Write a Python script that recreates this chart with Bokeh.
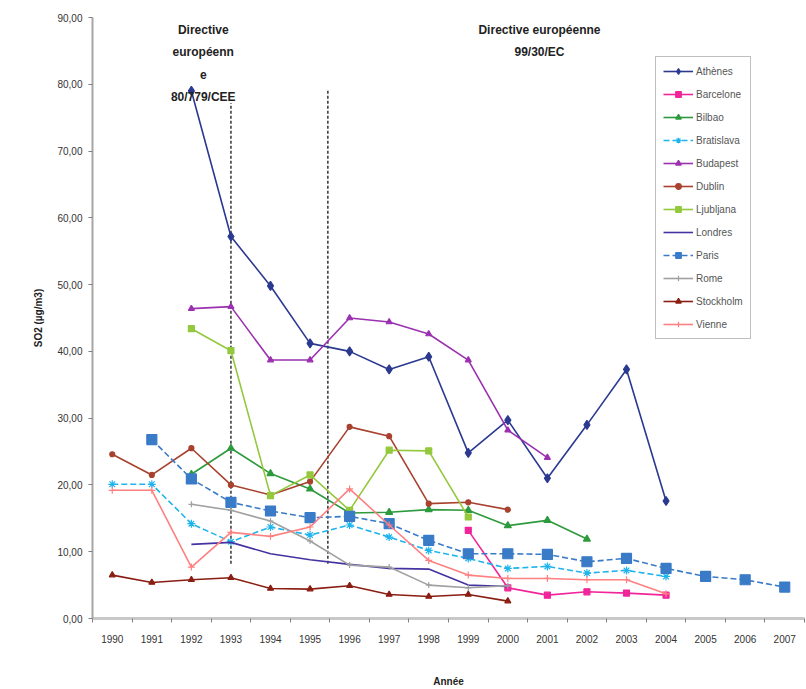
from bokeh.plotting import figure
from bokeh.models import FixedTicker, Label, Legend, LegendItem, ColumnDataSource
from bokeh.embed import file_html
from bokeh.resources import INLINE

nan = float("nan")

years = list(range(1990, 2008))
year_labels = [str(y) for y in years]
y_ticks = [0, 10, 20, 30, 40, 50, 60, 70, 80, 90]
y_tick_labels = ["0,00", "10,00", "20,00", "30,00", "40,00", "50,00", "60,00", "70,00", "80,00", "90,00"]

#            1990 1991 1992 1993 1994 1995 1996 1997 1998 1999 2000 2001 2002 2003 2004 2005 2006 2007
athenes    = [nan, nan, 79.0, 57.2, 49.8, 41.2, 40.0, 37.3, 39.2, 24.8, 29.7, 21.0, 29.0, 37.3, 17.6, nan, nan, nan]
barcelone  = [nan, nan, nan, nan, nan, nan, nan, nan, nan, 13.2, 4.6, 3.5, 4.0, 3.8, 3.5, nan, nan, nan]
bilbao     = [nan, nan, 21.6, 25.5, 21.7, 19.4, 15.8, 15.9, 16.3, 16.2, 13.9, 14.7, 11.9, nan, nan, nan, nan, nan]
bratislava = [20.1, 20.1, 14.2, 11.5, 13.7, 12.5, 14.0, 12.2, 10.2, 9.0, 7.5, 7.8, 6.8, 7.2, 6.3, nan, nan, nan]
budapest   = [nan, nan, 46.4, 46.7, 38.7, 38.7, 45.0, 44.4, 42.6, 38.7, 28.2, 24.1, nan, nan, nan, nan, nan, nan]
dublin     = [24.6, 21.5, 25.5, 20.0, 18.5, 20.5, 28.7, 27.3, 17.2, 17.4, 16.3, nan, nan, nan, nan, nan, nan, nan]
ljubljana  = [nan, nan, 43.4, 40.1, 18.4, 21.5, 16.2, 25.2, 25.1, 15.2, nan, nan, nan, nan, nan, nan, nan, nan]
londres    = [nan, nan, 11.1, 11.4, 9.7, 8.8, 8.1, 7.5, 7.4, 5.0, 4.8, nan, nan, nan, nan, nan, nan, nan]
paris      = [nan, 26.8, 20.9, 17.4, 16.1, 15.1, 15.3, 14.2, 11.7, 9.7, 9.7, 9.6, 8.5, 9.0, 7.5, 6.3, 5.8, 4.7]
rome       = [nan, nan, 17.1, 16.2, 14.6, 11.6, 8.0, 7.7, 5.0, 4.6, 4.9, nan, nan, nan, nan, nan, nan, nan]
stockholm  = [6.5, 5.4, 5.8, 6.1, 4.5, 4.4, 4.9, 3.6, 3.3, 3.6, 2.6, nan, nan, nan, nan, nan, nan, nan]
vienne     = [19.2, 19.2, 7.7, 12.9, 12.3, 13.7, 19.4, 14.0, 8.7, 6.5, 6.0, 6.0, 5.8, 5.8, 3.7, nan, nan, nan]

# directive marker lines (year position, top and bottom values)
directive_x = [1993, 1995.45]
directive_top = [77.2, 79.2]
directive_bottom = [8.2, 8.2]

series = [
    ("Athènes", athenes, "#2b3990", "diamond", 9, None),
    ("Barcelone", barcelone, "#f0259a", "square", 6, None),
    ("Bilbao", bilbao, "#2e9a3e", "triangle", 7, None),
    ("Bratislava", bratislava, "#1fb4ee", "asterisk", 8, "6 3"),
    ("Budapest", budapest, "#9b30b0", "triangle", 6, None),
    ("Dublin", dublin, "#a8412e", "circle", 5, None),
    ("Ljubljana", ljubljana, "#94c83d", "square", 6, None),
    ("Londres", londres, "#4433a0", None, 0, None),
    ("Paris", paris, "#3a7bc8", "square", 10, "6 3"),
    ("Rome", rome, "#a0a0a0", "cross", 6, None),
    ("Stockholm", stockholm, "#8b1e12", "triangle", 6, None),
    ("Vienne", vienne, "#ff8080", "cross", 7, None),
]

FONT = "Liberation Sans"

p = figure(width=806, height=689, output_backend="svg", toolbar_location=None,
           x_range=(1989.5, 2007.5), y_range=(0, 90),
           min_border_left=92, min_border_right=2, min_border_top=17, min_border_bottom=67)
p.xgrid.visible = False
p.ygrid.visible = False
p.outline_line_color = None
p.background_fill_color = "white"
p.border_fill_color = "white"

# axes
p.xaxis.ticker = FixedTicker(ticks=years, minor_ticks=[y - 0.5 for y in years] + [2007.5])
p.xaxis.major_label_overrides = {y: s for y, s in zip(years, year_labels)}
p.xaxis.major_tick_out = 0
p.xaxis.major_tick_in = 0
p.xaxis.minor_tick_out = 4
p.xaxis.minor_tick_in = 0
p.xaxis.minor_tick_line_color = "#808080"
p.xaxis.axis_line_color = "#c8c8c8"
p.xaxis.axis_line_width = 3
p.xaxis.major_label_standoff = 12
p.xaxis.axis_label = "Année"
p.xaxis.axis_label_standoff = 30
p.xaxis.axis_label_text_font_size = "10px"
p.xaxis.axis_label_text_font_style = "bold"

p.yaxis.ticker = FixedTicker(ticks=y_ticks)
p.yaxis.major_label_overrides = {t: s for t, s in zip(y_ticks, y_tick_labels)}
p.yaxis.major_tick_out = 4
p.yaxis.major_tick_in = 0
p.yaxis.minor_tick_out = 0
p.yaxis.minor_tick_in = 0
p.yaxis.major_tick_line_color = "#808080"
p.yaxis.axis_line_color = "#a6a6a6"
p.yaxis.axis_line_width = 2
p.yaxis.major_label_standoff = 6
p.yaxis.axis_label = "SO2 (µg/m3)"
p.yaxis.axis_label_standoff = 10
p.yaxis.axis_label_text_font_size = "10px"
p.yaxis.axis_label_text_font_style = "bold"

for ax in (p.xaxis, p.yaxis):
    ax.major_label_text_font = FONT
    ax.major_label_text_font_size = "10px"
    ax.major_label_text_color = "#333333"
    ax.axis_label_text_font = FONT
    ax.axis_label_text_color = "#222222"

# directive lines
p.segment(x0=directive_x, y0=directive_bottom, x1=directive_x, y1=directive_top,
          line_color="#333333", line_width=1.5, line_dash="3 2")

items = []
for name, vals, color, marker, size, dash in series:
    src = ColumnDataSource(dict(x=years, y=vals))
    rs = []
    r = p.line("x", "y", source=src, line_color=color, line_width=1.6,
               line_dash=dash if dash else "solid")
    rs.append(r)
    if marker:
        m = p.scatter("x", "y", source=src, marker=marker, size=size,
                      fill_color=color, line_color=color, line_width=1.2)
        rs.append(m)
    items.append(LegendItem(label=name, renderers=rs))

legend = Legend(items=items, location=(563, 279), orientation="vertical",
                label_text_font=FONT, label_text_font_size="10px", label_text_color="#555555",
                glyph_width=30, glyph_height=14, label_height=14, label_standoff=3,
                spacing=9, padding=7, margin=0,
                border_line_color="#808080", border_line_width=1.5,
                background_fill_color="white", background_fill_alpha=1.0)
p.add_layout(legend)

# annotations
ann1 = ["Directive", "européenn", "e", "80/779/CEE"]
ann1_y = [88.2, 84.8, 81.4, 78.1]
for txt, yy in zip(ann1, ann1_y):
    p.add_layout(Label(x=1992.3, y=yy, text=txt, text_align="center", text_baseline="middle",
                       text_font=FONT, text_font_size="12px", text_font_style="bold",
                       text_color="#222222"))
ann2 = ["Directive européenne", "99/30/EC"]
ann2_y = [88.2, 84.8]
for txt, yy in zip(ann2, ann2_y):
    p.add_layout(Label(x=2000.8, y=yy, text=txt, text_align="center", text_baseline="middle",
                       text_font=FONT, text_font_size="12px", text_font_style="bold",
                       text_color="#222222"))

open("out.html", "w").write(file_html(p, INLINE))
